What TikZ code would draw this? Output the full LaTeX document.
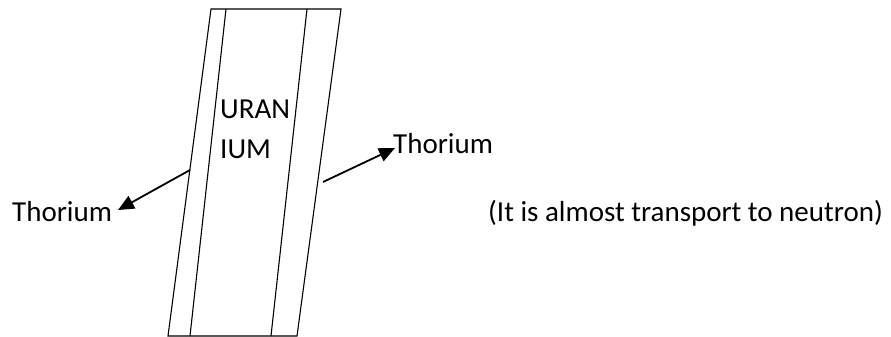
\documentclass[tikz,border=0pt]{standalone}
\usepackage{fontspec}
\setmainfont{Carlito}
\usetikzlibrary{arrows.meta}

\begin{document}
\begin{tikzpicture}[x=1pt, y=-1pt, >={Triangle[length=16pt,width=14pt]},
    txt/.style={inner sep=0pt, anchor=base west, font=\fontsize{29}{40}\selectfont},
    layer/.style={line width=1.1pt},
    pointer/.style={->, line width=1.8pt}]
    \useasboundingbox (0,0) rectangle (891,337);

    % plate with two cladding layers
    \coordinate (tl) at (211,9);
    \coordinate (tr) at (341,9);
    \coordinate (bl) at (168,336);
    \coordinate (br) at (297,336);
    \draw[layer] (tl) -- (tr) -- (br) -- (bl) -- cycle;
    \draw[layer] (226,9) -- (190,336);
    \draw[layer] (307,9) -- (271,336);

    \node[txt] (uran) at (220,118) {URAN};
    \node[txt] (ium) at (220,158) {IUM};

    \node[txt] (thl) at (12,221) {Thorium};
    \node[txt] (thr) at (393,153) {Thorium};
    \node[txt] (note) at (488,221) {(It is almost transport to neutron)};

    \coordinate (lfrom) at (190,170);
    \coordinate (lto) at (118,210);
    \coordinate (rfrom) at (323,182);
    \coordinate (rto) at (395,148);
    \draw[pointer] (lfrom) -- (lto);
    \draw[pointer] (rfrom) -- (rto);
\end{tikzpicture}
\end{document}
